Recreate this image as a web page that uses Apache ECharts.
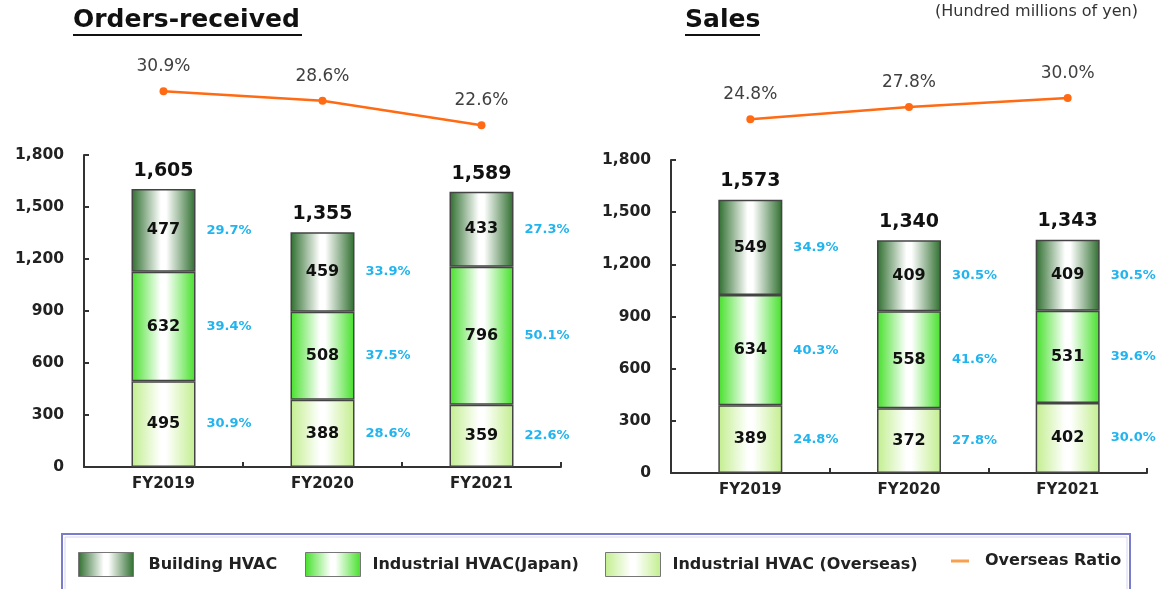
<!DOCTYPE html>
<html>
<head>
<meta charset="utf-8">
<script src="https://cdn.jsdelivr.net/npm/echarts/dist/echarts.min.js"></script>
<style>
  html, body { margin: 0; padding: 0; background: #fff; }
  #chart { width: 1162px; height: 589px; }
</style>
</head>
<body>
<div id="chart"></div>
<script>
  // data (hundred millions of yen)
  var categories = ['FY2019', 'FY2020', 'FY2021']

  var ordersBuilding = [477, 459, 433]
  var ordersJapan = [632, 508, 796]
  var ordersOverseas = [495, 388, 359]
  var ordersTotal = [1605, 1355, 1589]
  var ordersBuildingShare = [29.7, 33.9, 27.3]
  var ordersJapanShare = [39.4, 37.5, 50.1]
  var ordersOverseasShare = [30.9, 28.6, 22.6]
  var ordersRatio = [30.9, 28.6, 22.6]

  var salesBuilding = [549, 409, 409]
  var salesJapan = [634, 558, 531]
  var salesOverseas = [389, 372, 402]
  var salesTotal = [1573, 1340, 1343]
  var salesBuildingShare = [34.9, 30.5, 30.5]
  var salesJapanShare = [40.3, 41.6, 39.6]
  var salesOverseasShare = [24.8, 27.8, 30.0]
  var salesRatio = [24.8, 27.8, 30.0]

  var font = '"DejaVu Sans", Verdana, sans-serif'

  function grad (edge) {
    return new echarts.graphic.LinearGradient(0, 0, 1, 0, [
      { offset: 0, color: edge },
      { offset: 0.46, color: '#ffffff' },
      { offset: 0.54, color: '#ffffff' },
      { offset: 1, color: edge }
    ])
  }
  var colBuilding = '#2E6E2E'
  var colJapan = '#45E02A'
  var colOverseas = '#C2EE8E'

  function pct (v) { return v.toFixed(1) + '%' }

  // stacked bars + share labels + total labels for one grid
  function barSeries (idx, overseas, japan, building, shOverseas, shJapan, shBuilding, totals) {
    var list = []
    var parts = [
      ['Industrial HVAC (Overseas)', overseas, colOverseas, shOverseas],
      ['Industrial HVAC(Japan)', japan, colJapan, shJapan],
      ['Building HVAC', building, colBuilding, shBuilding]
    ]
    parts.forEach(function (p) {
      list.push({
        name: p[0],
        type: 'bar',
        stack: 'main' + idx,
        xAxisIndex: idx,
        yAxisIndex: idx,
        barWidth: 64,
        barGap: '-100%',
        data: p[1],
        itemStyle: { color: grad(p[2]), borderColor: '#444', borderWidth: 1.5 },
        label: {
          show: true,
          position: 'inside',
          color: '#111',
          fontFamily: font,
          fontWeight: 'bold',
          fontSize: 16
        }
      })
    })
    parts.forEach(function (p) {
      list.push({
        name: 'share' + idx,
        type: 'bar',
        stack: 'share' + idx,
        xAxisIndex: idx,
        yAxisIndex: idx,
        barWidth: 64,
        barGap: '-100%',
        silent: true,
        data: p[1],
        itemStyle: { color: 'rgba(0,0,0,0)' },
        label: {
          show: true,
          position: 'right',
          distance: 11,
          color: '#22B4EE',
          fontFamily: font,
          fontWeight: 'bold',
          fontSize: 13,
          formatter: function (params) { return pct(p[3][params.dataIndex]) }
        }
      })
    })
    list.push({
      name: 'total' + idx,
      type: 'scatter',
      xAxisIndex: idx,
      yAxisIndex: idx,
      symbolSize: 1,
      silent: true,
      z: 5,
      data: totals,
      itemStyle: { color: 'rgba(0,0,0,0)', opacity: 1 },
      label: {
        show: true,
        position: 'top',
        distance: 8,
        color: '#111',
        opacity: 1,
        fontFamily: font,
        fontWeight: 'bold',
        fontSize: 19,
        formatter: function (params) { return params.value.toLocaleString('en-US') }
      }
    })
    return list
  }

  function lineSeries (idx, values) {
    return {
      name: 'Overseas Ratio',
      type: 'line',
      xAxisIndex: idx,
      yAxisIndex: idx,
      data: values,
      symbol: 'circle',
      symbolSize: 8,
      itemStyle: { color: '#FF6A13' },
      lineStyle: { color: '#FF6A13', width: 2.5 },
      label: {
        show: true,
        position: 'top',
        distance: 12,
        color: '#404040',
        fontFamily: font,
        fontSize: 17,
        formatter: function (params) { return pct(params.value) }
      }
    }
  }

  var barX = {
    type: 'category',
    data: categories,
    axisLine: { lineStyle: { color: '#333', width: 2 } },
    axisTick: { show: true, inside: true, length: 5, lineStyle: { color: '#333', width: 2 } },
    axisLabel: { color: '#222', fontFamily: font, fontWeight: 'bold', fontSize: 15, margin: 10 }
  }
  var barY = {
    type: 'value',
    min: 0,
    max: 1800,
    interval: 300,
    axisLine: { show: true, lineStyle: { color: '#333', width: 2 } },
    axisTick: { show: true, inside: true, length: 5, lineStyle: { color: '#333', width: 2 } },
    splitLine: { show: false },
    axisLabel: {
      color: '#222', fontFamily: font, fontWeight: 'bold', fontSize: 15.5, margin: 20,
      formatter: function (v) { return v.toLocaleString('en-US') }
    }
  }
  var lineX = { type: 'category', data: categories, show: false }
  var lineY = { type: 'value', min: 0, max: 40, show: false }

  function legendItem (left, name, color, pad) {
    return {
      left: left,
      top: 552,
      padding: 0,
      itemWidth: 55,
      itemHeight: 24,
      selectedMode: false,
      data: [{ name: name, icon: 'rect', itemStyle: { color: grad(color), borderColor: '#777', borderWidth: 1 } }],
      textStyle: { color: '#222', fontFamily: font, fontWeight: 'bold', fontSize: 16, padding: [0, 0, 0, pad] }
    }
  }

  var option = {
    animation: false,
    title: [
      { text: 'Orders-received', left: 73, top: 8, padding: 0, textStyle: { color: '#111', fontFamily: font, fontWeight: 'bold', fontSize: 25 } },
      { text: 'Sales', left: 685, top: 8, padding: 0, textStyle: { color: '#111', fontFamily: font, fontWeight: 'bold', fontSize: 25 } }
    ],
    graphic: [
      { type: 'line', shape: { x1: 73, y1: 35, x2: 302, y2: 35 }, style: { stroke: '#111', lineWidth: 2 } },
      { type: 'line', shape: { x1: 685, y1: 35, x2: 760, y2: 35 }, style: { stroke: '#111', lineWidth: 2 } },
      { type: 'text', style: { text: '(Hundred millions of yen)', x: 1138, y: 12, align: 'right', verticalAlign: 'middle', font: '16px ' + font, fill: '#333' } },
      { type: 'rect', shape: { x: 62, y: 534, width: 1068, height: 70 }, style: { fill: 'none', stroke: '#7B7BCB', lineWidth: 2 } },
      { type: 'rect', shape: { x: 65, y: 537, width: 1062, height: 70 }, style: { fill: 'none', stroke: '#D4D4F2', lineWidth: 1 } }
    ],
    legend: [
      legendItem(78, 'Building HVAC', colBuilding, 10),
      legendItem(305, 'Industrial HVAC(Japan)', colJapan, 7),
      legendItem(605, 'Industrial HVAC (Overseas)', colOverseas, 7),
      {
        left: 951,
        top: 553,
        padding: 0,
        itemWidth: 18,
        itemHeight: 3,
        selectedMode: false,
        data: [{ name: 'Overseas Ratio', icon: 'rect', itemStyle: { color: '#F7A04F' } }],
        textStyle: { color: '#222', fontFamily: font, fontWeight: 'bold', fontSize: 16, padding: [0, 0, 0, 11] }
      }
    ],
    grid: [
      { left: 84, top: 155, width: 477, height: 312 },
      { left: 671, top: 160, width: 476, height: 313 },
      { left: 84, top: 54, width: 477, height: 164 },
      { left: 671, top: 57, width: 476, height: 164 }
    ],
    xAxis: [
      Object.assign({ gridIndex: 0 }, barX),
      Object.assign({ gridIndex: 1 }, barX),
      Object.assign({ gridIndex: 2 }, lineX),
      Object.assign({ gridIndex: 3 }, lineX)
    ],
    yAxis: [
      Object.assign({ gridIndex: 0 }, barY),
      Object.assign({ gridIndex: 1 }, barY),
      Object.assign({ gridIndex: 2 }, lineY),
      Object.assign({ gridIndex: 3 }, lineY)
    ],
    series: []
      .concat(barSeries(0, ordersOverseas, ordersJapan, ordersBuilding, ordersOverseasShare, ordersJapanShare, ordersBuildingShare, ordersTotal))
      .concat(barSeries(1, salesOverseas, salesJapan, salesBuilding, salesOverseasShare, salesJapanShare, salesBuildingShare, salesTotal))
      .concat([lineSeries(2, ordersRatio), lineSeries(3, salesRatio)])
  }

  var myChart = echarts.init(document.getElementById('chart'))
  myChart.setOption(option)
</script>
</body>
</html>
